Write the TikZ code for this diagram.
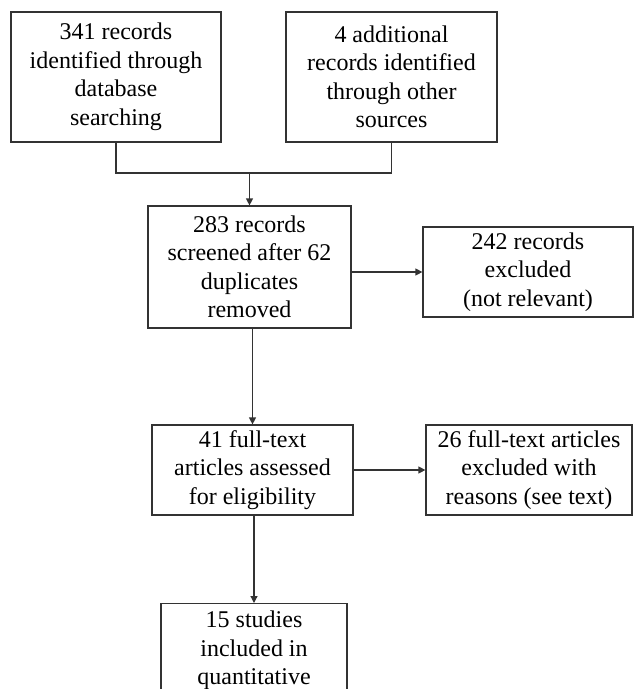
\documentclass[tikz,border=0pt]{standalone}
\usepackage{fontspec}
\setmainfont{Liberation Serif}
\usepackage{tikz}
\usetikzlibrary{
    calc,
    arrows.meta,
    positioning
}
\tikzset{
    flowbox/.style={draw=black!80, line width=1.2pt, align=center,
        font=\fontsize{24}{28.5}\selectfont, inner sep=0pt},
    flowline/.style={draw=black!80, line width=1.2pt},
    flowarrow/.style={flowline, -{Triangle[length=7pt,width=7pt]}}
}

\begin{document}
\begin{tikzpicture}[x=1pt,y=-1pt]
    \useasboundingbox (0,0) rectangle (634,689);
    \clip (0,0) rectangle (634,689);
    % identification
    \node[flowbox, minimum width=210pt, minimum height=130pt] (dbrec) at (116,77)
        {341 records\\identified through\\database\\searching};
    \node[flowbox, minimum width=211pt, minimum height=130pt] (othrec) at (391.5,77)
        {4 additional\\records identified\\through other\\sources};
    % screening
    \node[flowbox, minimum width=203pt, minimum height=122pt] (screen) at (249.5,267)
        {283 records\\screened after 62\\duplicates\\removed};
    \node[flowbox, minimum width=210pt, minimum height=90pt] (excl) at (528,272)
        {242 records\\excluded\\(not relevant)};
    % eligibility
    \node[flowbox, minimum width=201pt, minimum height=90pt] (elig) at (252.5,470)
        {41 full-text\\articles assessed\\for eligibility};
    \node[flowbox, minimum width=206pt, minimum height=90pt] (fullexcl) at (529,470)
        {26 full-text articles\\excluded with\\reasons (see text)};
    % included (cut off at the bottom)
    \node[flowbox, anchor=north, minimum width=186pt, inner ysep=7.5pt] (incl) at (254,603)
        {15 studies\\included in\\quantitative};

    \coordinate (join) at (249.5,173);
    \draw[flowline] (dbrec.south) |- (join) -| (othrec.south);
    \draw[flowarrow] (join) -- (screen.north);
    \draw[flowarrow] (excl.west -| screen.east) -- (excl.west);
    \draw[flowarrow] (elig.north |- screen.south) -- (elig.north);
    \draw[flowarrow] (elig.east) -- (fullexcl.west);
    \draw[flowarrow] (incl.north |- elig.south) -- (incl.north);
\end{tikzpicture}
\end{document}
